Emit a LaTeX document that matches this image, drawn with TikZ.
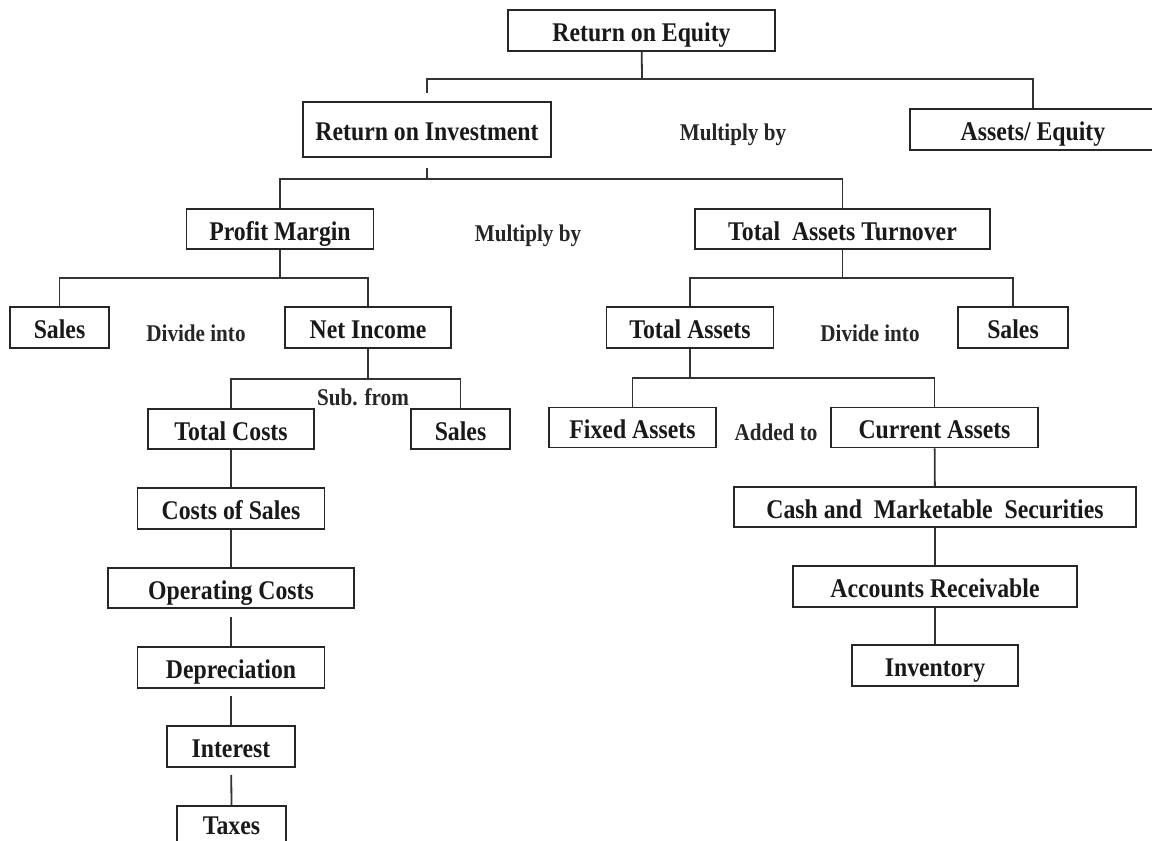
\documentclass[tikz,border=0pt]{standalone}
\usepackage{fontspec}
\setmainfont{Liberation Serif}
\newfontfamily\boxfont[FakeStretch=0.88]{Liberation Serif}
\begin{document}
\begin{tikzpicture}[x=1pt,y=-1pt,
  box/.style={draw=black!85, line width=1.8pt, rectangle, inner sep=0pt, minimum height=41pt,
              font=\boxfont\fontsize{27}{30}\selectfont\bfseries, text=black!90,
              text height=22pt, text depth=0pt},
  thickbox/.style={box, line width=2.8pt},
  lbl/.style={font=\boxfont\fontsize{24}{27}\selectfont\bfseries, text=black!85, inner sep=0pt},
  conn/.style={draw=black!80, line width=1.8pt}]
\useasboundingbox (0,0) rectangle (1152,841);
\clip (0,0) rectangle (1152,841);
\fill[white] (0,0) rectangle (1152,841);
% nodes
\node[box, minimum width=267pt] (roe) at (641.5,30.5) {Return on Equity};
\node[thickbox, minimum width=248pt, minimum height=55pt] (roi) at (427,129.5) {Return on Investment};
\node[box, minimum width=246pt] (ae) at (1033,129.5) {Assets/ Equity};
\node[lbl] (mult1) at (733,135) {Multiply by};
\node[box, minimum width=187pt, minimum height=40pt] (pm) at (280,229) {Profit Margin};
\node[box, minimum width=295pt, minimum height=40pt] (tat) at (842.5,229) {Total\ \ Assets Turnover};
\node[lbl] (mult2) at (528,236) {Multiply by};
\node[box, minimum width=99pt] (sales1) at (59.5,327.5) {Sales};
\node[lbl] (div1) at (196,333) {Divide into};
\node[box, minimum width=166pt] (ni) at (368,327.5) {Net Income};
\node[box, minimum width=167pt] (ta) at (690,327.5) {Total Assets};
\node[lbl] (div2) at (870,333) {Divide into};
\node[box, minimum width=110pt] (sales3) at (1013,327.5) {Sales};
\node[box, minimum width=166pt, minimum height=40pt] (tc) at (231,429) {Total Costs};
\node[box, minimum width=99pt, minimum height=40pt] (sales2) at (460.5,429) {Sales};
\node[lbl] (sub) at (363,397) {Sub. from};
\node[box, minimum width=167pt, minimum height=40pt] (fa) at (632.5,427.5) {Fixed Assets};
\node[lbl] (added) at (776,432) {Added to};
\node[box, minimum width=207pt, minimum height=40pt] (ca) at (934.5,427.5) {Current Assets};
\node[box, minimum width=187pt] (cos) at (231,508.5) {Costs of Sales};
\node[box, minimum width=246pt, minimum height=40pt] (oc) at (231,588) {Operating Costs};
\node[box, minimum width=187pt] (dep) at (231,667.5) {Depreciation};
\node[box, minimum width=128pt] (int) at (231,746.5) {Interest};
\node[box, minimum width=109pt, text height=15pt] (tax) at (231.5,826.5) {Taxes};
\node[box, minimum width=402pt, minimum height=40pt] (cash) at (935,507) {Cash and\ \ Marketable\ \ Securities};
\node[box, minimum width=284pt] (ar) at (935,586.5) {Accounts Receivable};
\node[box, minimum width=166pt] (inv) at (935,665.5) {Inventory};
% junctions
\coordinate (j1) at (642,79);
\coordinate (j2) at (427,179);
\coordinate (j3) at (280,278);
\coordinate (j4) at (842.5,278);
\coordinate (j5) at (368,379);
\coordinate (j6) at (690,378);
% connectors
\draw[conn] (roe) -- (j1);
\draw[conn, shorten <=8pt] (roi.north) |- (j1) -| (ae.north);
\draw[conn, shorten <=10pt] (roi.south) -- (j2);
\draw[conn] (pm.north) |- (j2) -| (tat.north);
\draw[conn] (pm) -- (j3);
\draw[conn] (sales1.north) |- (j3) -| (ni.north);
\draw[conn] (tat) -- (j4);
\draw[conn] (ta.north) |- (j4) -| (sales3.north);
\draw[conn] (ni) -- (j5);
\draw[conn] (tc.north) |- (j5) -| (sales2.north);
\draw[conn] (ta) -- (j6);
\draw[conn] (fa.north) |- (j6) -| (ca.north);
\draw[conn] (tc) -- (cos);
\draw[conn] (cos) -- (oc);
\draw[conn, shorten <=8pt] (oc) -- (dep);
\draw[conn, shorten <=7pt] (dep) -- (int);
\draw[conn, shorten <=7pt] (int) -- (tax.north);
\draw[conn] (ca) -- (cash);
\draw[conn] (cash) -- (ar);
\draw[conn] (ar) -- (inv);
\end{tikzpicture}
\end{document}
